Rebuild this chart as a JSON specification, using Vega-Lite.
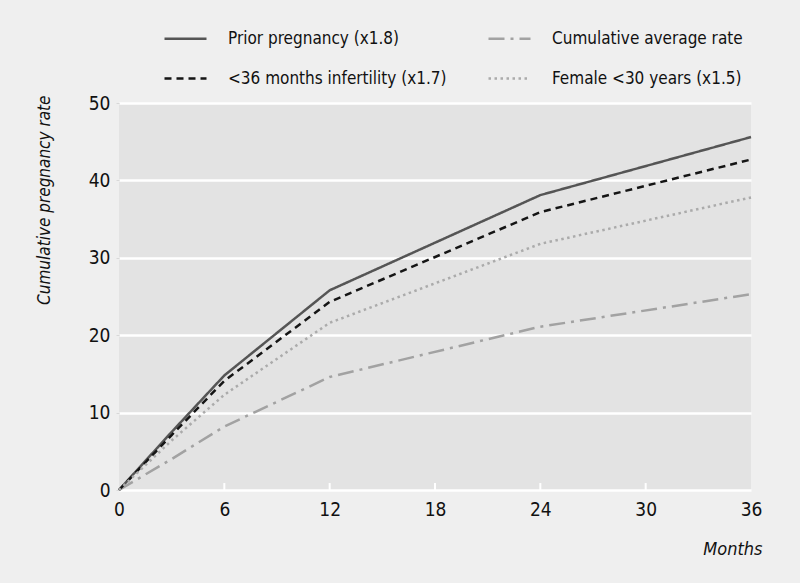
{
  "$schema": "https://vega.github.io/schema/vega-lite/v6.json",
  "width": 632,
  "height": 387,
  "autosize": "none",
  "padding": {"left": 119, "top": 103, "right": 49, "bottom": 93},
  "background": "#efefef",
  "config": {
    "font": "DejaVu Sans Condensed, Roboto, sans-serif",
    "view": {"fill": "#e3e3e3", "stroke": null}
  },
  "datasets": {
    "ticks": [
      {"month": 6, "lo": 0, "hi": 0.9},
      {"month": 12, "lo": 0, "hi": 0.9},
      {"month": 18, "lo": 0, "hi": 0.9},
      {"month": 24, "lo": 0, "hi": 0.9},
      {"month": 30, "lo": 0, "hi": 0.9}
    ],
    "lines": [
      {"month": 0, "rate": 0, "series": "Prior pregnancy (x1.8)"},
      {"month": 3, "rate": 7.5, "series": "Prior pregnancy (x1.8)"},
      {"month": 6, "rate": 14.8, "series": "Prior pregnancy (x1.8)"},
      {"month": 12, "rate": 25.8, "series": "Prior pregnancy (x1.8)"},
      {"month": 24, "rate": 38.1, "series": "Prior pregnancy (x1.8)"},
      {"month": 36, "rate": 45.6, "series": "Prior pregnancy (x1.8)"},
      {"month": 0, "rate": 0, "series": "Cumulative average rate"},
      {"month": 3, "rate": 4.0, "series": "Cumulative average rate"},
      {"month": 6, "rate": 8.2, "series": "Cumulative average rate"},
      {"month": 12, "rate": 14.6, "series": "Cumulative average rate"},
      {"month": 24, "rate": 21.1, "series": "Cumulative average rate"},
      {"month": 36, "rate": 25.3, "series": "Cumulative average rate"},
      {"month": 0, "rate": 0, "series": "<36 months infertility (x1.7)"},
      {"month": 3, "rate": 7.1, "series": "<36 months infertility (x1.7)"},
      {"month": 6, "rate": 14.1, "series": "<36 months infertility (x1.7)"},
      {"month": 12, "rate": 24.3, "series": "<36 months infertility (x1.7)"},
      {"month": 24, "rate": 35.9, "series": "<36 months infertility (x1.7)"},
      {"month": 36, "rate": 42.7, "series": "<36 months infertility (x1.7)"},
      {"month": 0, "rate": 0, "series": "Female <30 years (x1.5)"},
      {"month": 3, "rate": 6.4, "series": "Female <30 years (x1.5)"},
      {"month": 6, "rate": 12.3, "series": "Female <30 years (x1.5)"},
      {"month": 12, "rate": 21.6, "series": "Female <30 years (x1.5)"},
      {"month": 24, "rate": 31.8, "series": "Female <30 years (x1.5)"},
      {"month": 36, "rate": 37.8, "series": "Female <30 years (x1.5)"}
    ]
  },
  "layer": [
    {
      "data": {"name": "ticks"},
      "mark": {"type": "rule", "color": "#ffffff", "strokeWidth": 2},
      "encoding": {
        "x": {"field": "month", "type": "quantitative"},
        "y": {"field": "lo", "type": "quantitative"},
        "y2": {"field": "hi"}
      }
    },
    {
      "data": {"name": "lines"},
      "mark": {"type": "line", "strokeWidth": 2.5, "clip": false},
      "encoding": {
        "x": {
          "field": "month",
          "type": "quantitative",
          "scale": {"domain": [0, 36], "nice": false},
          "axis": {
            "values": [0, 6, 12, 18, 24, 30, 36],
            "domain": false,
            "grid": false,
            "ticks": false,
            "labelPadding": 10,
            "labelFontSize": 19,
            "labelColor": "#111111",
            "labelFlush": false,
            "title": "Months",
            "titleFontSize": 18,
            "titleFontStyle": "italic",
            "titleFontWeight": "normal",
            "titleColor": "#111111",
            "titleAnchor": "end",
            "titleAlign": "right",
            "titleX": 643,
            "titleY": 64,
            "titleBaseline": "alphabetic"
          }
        },
        "y": {
          "field": "rate",
          "type": "quantitative",
          "scale": {"domain": [0, 50], "nice": false},
          "axis": {
            "values": [0, 10, 20, 30, 40, 50],
            "domain": false,
            "grid": true,
            "gridColor": "#ffffff",
            "gridWidth": 2.5,
            "gridOpacity": 1,
            "ticks": true,
            "tickColor": "#d8d8d8",
            "tickSize": 3,
            "labelPadding": 6,
            "labelFontSize": 19,
            "labelColor": "#111111",
            "labelFlush": false,
            "title": "Cumulative pregnancy rate",
            "titleFontSize": 17,
            "titleFontStyle": "italic",
            "titleFontWeight": "normal",
            "titleColor": "#111111",
            "titleAngle": -90,
            "titleAlign": "right",
            "titleAnchor": "end",
            "titleX": -66,
            "titleY": -8
          }
        },
        "color": {
          "field": "series",
          "type": "nominal",
          "sort": ["Prior pregnancy (x1.8)", "Cumulative average rate", "<36 months infertility (x1.7)", "Female <30 years (x1.5)"],
          "scale": {
            "domain": ["Prior pregnancy (x1.8)", "Cumulative average rate", "<36 months infertility (x1.7)", "Female <30 years (x1.5)"],
            "range": ["#555555", "#a2a2a2", "#151515", "#ababab"]
          },
          "legend": {
            "orient": "none",
            "legendX": 44,
            "legendY": -87,
            "direction": "horizontal",
            "columns": 2,
            "title": null,
            "symbolType": "stroke",
            "symbolSize": 1764,
            "symbolStrokeWidth": 2.5,
            "labelFontSize": 17,
            "labelColor": "#111111",
            "labelOffset": 20,
            "columnPadding": 36,
            "rowPadding": 9,
            "labelLimit": 400
          }
        },
        "strokeDash": {
          "field": "series",
          "type": "nominal",
          "sort": ["Prior pregnancy (x1.8)", "Cumulative average rate", "<36 months infertility (x1.7)", "Female <30 years (x1.5)"],
          "scale": {
            "domain": ["Prior pregnancy (x1.8)", "Cumulative average rate", "<36 months infertility (x1.7)", "Female <30 years (x1.5)"],
            "range": [[1, 0], [16, 6, 3, 6], [7, 5], [2.5, 3.5]]
          },
          "legend": null
        },
        "strokeWidth": {
          "field": "series",
          "type": "nominal",
          "scale": {
            "domain": ["Prior pregnancy (x1.8)", "Cumulative average rate", "<36 months infertility (x1.7)", "Female <30 years (x1.5)"],
            "range": [2.5, 2.5, 3, 3]
          },
          "legend": null
        }
      }
    }
  ]
}
